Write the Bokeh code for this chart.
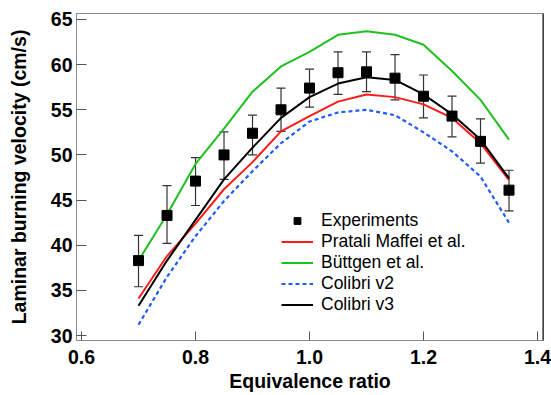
from bokeh.plotting import figure
from bokeh.models import (Range1d, FixedTicker, Whisker, TeeHead, ColumnDataSource,
                          Legend, LegendItem, Span)
from bokeh.embed import file_html
from bokeh.resources import INLINE

# ---------------- data ----------------
phi = [0.70, 0.75, 0.80, 0.85, 0.90, 0.95, 1.00, 1.05, 1.10, 1.15, 1.20, 1.25, 1.30, 1.35]

exp_val = [38.3, 43.3, 47.1, 50.0, 52.4, 55.0, 57.4, 59.1, 59.2, 58.5, 56.5, 54.3, 51.5, 46.1]
exp_hi = [41.1, 46.6, 49.7, 52.55, 54.4, 57.4, 59.5, 61.4, 61.4, 61.1, 58.85, 56.5, 54.0, 48.3]
exp_lo = [35.4, 40.2, 44.4, 47.3, 50.0, 52.6, 55.3, 56.7, 57.0, 56.1, 54.1, 52.0, 49.1, 43.8]

pratali = [34.1, 38.8, 42.4, 46.2, 49.2, 52.6, 54.3, 55.9, 56.7, 56.4, 55.6, 54.1, 51.3, 47.2]
buettgen = [38.3, 43.4, 49.0, 52.9, 57.0, 59.8, 61.4, 63.3, 63.7, 63.3, 62.2, 59.3, 56.1, 51.7]
colibri_v2 = [31.2, 36.5, 41.0, 44.9, 48.2, 51.3, 53.7, 54.7, 55.0, 54.4, 52.5, 50.4, 47.6, 42.5]
colibri_v3 = [33.3, 38.3, 42.8, 47.3, 50.8, 54.1, 56.4, 57.9, 58.6, 58.3, 56.7, 54.5, 51.7, 47.4]

x_ticks = [0.6, 0.8, 1.0, 1.2, 1.4]
x_tick_labels = ["0.6", "0.8", "1.0", "1.2", "1.4"]
y_ticks = [30, 35, 40, 45, 50, 55, 60, 65]

series_labels = ["Experiments", "Pratali Maffei et al.", "Büttgen et al.", "Colibri v2", "Colibri v3"]
x_label = "Equivalence ratio"
y_label = "Laminar burning velocity (cm/s)"

# ---------------- figure ----------------
FONT = "Liberation Sans"
X_END = 1.4105

p = figure(width=551, height=395, output_backend="svg", toolbar_location=None,
           x_range=Range1d(0.5912, X_END), y_range=Range1d(29.45, 65.66),
           min_border_left=76, min_border_right=8, min_border_top=13, min_border_bottom=55)

p.xgrid.visible = False
p.ygrid.visible = False
p.outline_line_color = "#8a8a8a"
p.outline_line_width = 1
p.background_fill_color = "white"
p.border_fill_color = "white"

for ax in (p.xaxis[0], p.yaxis[0]):
    ax.axis_line_color = "#8a8a8a"
    ax.major_tick_line_color = "#555555"
    ax.major_tick_out = 0
    ax.minor_tick_line_color = None
    ax.major_label_text_font = FONT
    ax.major_label_text_font_style = "bold"
    ax.major_label_text_font_size = "19.5px"
    ax.major_label_text_color = "black"
    ax.axis_label_text_font = FONT
    ax.axis_label_text_font_style = "bold"
    ax.axis_label_text_font_size = "19.5px"
    ax.axis_label_text_color = "black"

p.xaxis.ticker = FixedTicker(ticks=x_ticks)
p.xaxis.major_label_overrides = dict(zip(x_ticks, x_tick_labels))
p.xaxis.major_tick_in = 9
p.xaxis.major_label_standoff = 9
p.xaxis.axis_label = x_label
p.xaxis.axis_label_standoff = 3

p.yaxis.ticker = FixedTicker(ticks=y_ticks)
p.yaxis.major_tick_in = 10
p.yaxis.major_label_standoff = 4
p.yaxis.axis_label = y_label
p.yaxis.axis_label_standoff = 18

# right frame edge (black)
p.add_layout(Span(location=X_END, dimension="height",
                  line_color="black", line_width=2))

# ---------------- glyphs ----------------
r_green = p.line(phi, buettgen, line_color="#1fbf1f", line_width=2)
r_red = p.line(phi, pratali, line_color="#ff1a1a", line_width=2)
r_blue = p.line(phi, colibri_v2, line_color="#1f5cff", line_width=2.2, line_dash="4 3")
r_black = p.line(phi, colibri_v3, line_color="black", line_width=2)

src = ColumnDataSource(dict(x=phi, y=exp_val, lo=exp_lo, hi=exp_hi))
wh = Whisker(base="x", upper="hi", lower="lo", source=src,
             line_color="#333333", line_width=1.2,
             upper_head=TeeHead(size=9, line_color="#333333", line_width=1.2),
             lower_head=TeeHead(size=9, line_color="#333333", line_width=1.2))
p.add_layout(wh)

r_exp = p.scatter("x", "y", source=src, marker="square", size=10,
                  fill_color="black", line_color="black")

legend = Legend(items=[
    LegendItem(label=series_labels[0], renderers=[r_exp]),
    LegendItem(label=series_labels[1], renderers=[r_red]),
    LegendItem(label=series_labels[2], renderers=[r_green]),
    LegendItem(label=series_labels[3], renderers=[r_blue]),
    LegendItem(label=series_labels[4], renderers=[r_black]),
], location=(205, 25))
legend.label_text_font = FONT
legend.label_text_font_size = "17.5px"
legend.label_text_color = "black"
legend.glyph_width = 32
legend.glyph_height = 17
legend.label_height = 17
legend.spacing = 0
legend.padding = 0
legend.margin = 0
legend.label_standoff = 8
legend.border_line_color = None
legend.background_fill_alpha = 0
p.add_layout(legend, "center")

open("out.html", "w").write(file_html(p, INLINE))
